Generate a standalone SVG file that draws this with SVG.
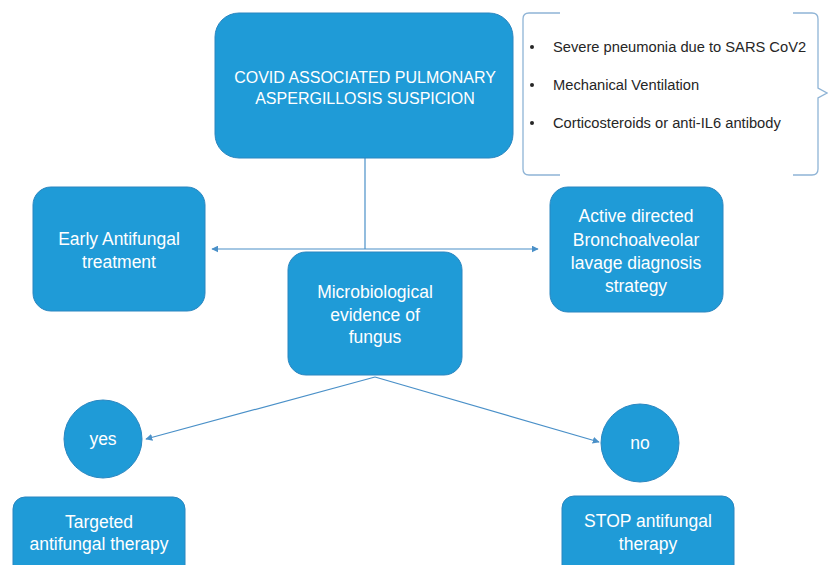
<svg xmlns="http://www.w3.org/2000/svg" width="828" height="565" viewBox="0 0 828 565">
<defs>
<marker id="arr" viewBox="0 0 10 10" refX="9" refY="5" markerWidth="7" markerHeight="7" orient="auto-start-reverse" markerUnits="userSpaceOnUse">
<path d="M0,0 L10,5 L0,10 z" fill="#4a90c8"/>
</marker>
<style>
.box{fill:#1f9bd7;stroke:#2a86c0;stroke-width:1}
.t{font-family:"Liberation Sans",Arial,sans-serif;font-size:17.5px;fill:#ffffff;text-anchor:middle}
.b{font-family:"Liberation Sans",Arial,sans-serif;font-size:14.7px;fill:#262626}
.c{stroke:#4a90c8;stroke-width:1.2;fill:none}
.br{stroke:#8fb4d6;stroke-width:1.3;fill:none}
</style>
</defs>
<rect width="828" height="565" fill="#ffffff"/>
<g id="connectors">
<line class="c" x1="365" y1="158" x2="365" y2="249"/>
<line class="c" x1="212" y1="249" x2="538" y2="249" marker-start="url(#arr)" marker-end="url(#arr)"/>
<line class="c" x1="375" y1="377" x2="146" y2="439" marker-end="url(#arr)"/>
<line class="c" x1="375" y1="377" x2="599" y2="442" marker-end="url(#arr)"/>
</g>
<g id="n-capa">
<rect class="box" x="215" y="13" width="298" height="145" rx="24"/>
<text class="t" x="365" y="83" style="font-size:16px">COVID ASSOCIATED PULMONARY</text>
<text class="t" x="365" y="104" style="font-size:16px">ASPERGILLOSIS SUSPICION</text>
</g>
<g id="n-criteria">
<path class="br" d="M560,13 L529,13 Q523,13 523,19 L523,169 Q523,175 529,175 L560,175"/>
<path class="br" d="M793,13 L812,13 Q818,13 818,19 L818,88 L827,93 L818,98 L818,169 Q818,175 812,175 L793,175"/>
<circle cx="532" cy="47" r="2" fill="#262626"/>
<circle cx="532" cy="85" r="2" fill="#262626"/>
<circle cx="532" cy="123" r="2" fill="#262626"/>
<text class="b" x="553" y="52">Severe pneumonia due to SARS CoV2</text>
<text class="b" x="553" y="90">Mechanical Ventilation</text>
<text class="b" x="553" y="128">Corticosteroids  or anti-IL6 antibody</text>
</g>
<g id="n-early">
<rect class="box" x="33" y="187" width="172" height="124" rx="18"/>
<text class="t" x="119" y="245">Early Antifungal</text>
<text class="t" x="119" y="268">treatment</text>
</g>
<g id="n-bal">
<rect class="box" x="550" y="187" width="173" height="125" rx="18"/>
<text class="t" x="636" y="222">Active directed</text>
<text class="t" x="636" y="246">Bronchoalveolar</text>
<text class="t" x="636" y="269">lavage diagnosis</text>
<text class="t" x="636" y="292">strategy</text>
</g>
<g id="n-micro">
<rect class="box" x="288" y="252" width="174" height="123" rx="18"/>
<text class="t" x="375" y="298">Microbiological</text>
<text class="t" x="375" y="321">evidence of</text>
<text class="t" x="375" y="343">fungus</text>
</g>
<g id="n-yes">
<circle class="box" cx="103" cy="439" r="39"/>
<text class="t" x="103" y="445">yes</text>
</g>
<g id="n-no">
<circle class="box" cx="640" cy="443" r="39"/>
<text class="t" x="640" y="449">no</text>
</g>
<g id="n-targeted">
<rect class="box" x="13" y="497" width="172" height="80" rx="12"/>
<text class="t" x="99" y="528">Targeted</text>
<text class="t" x="99" y="550">antifungal therapy</text>
</g>
<g id="n-stop">
<rect class="box" x="562" y="496" width="172" height="81" rx="12"/>
<text class="t" x="648" y="527">STOP antifungal</text>
<text class="t" x="648" y="550">therapy</text>
</g>
</svg>
